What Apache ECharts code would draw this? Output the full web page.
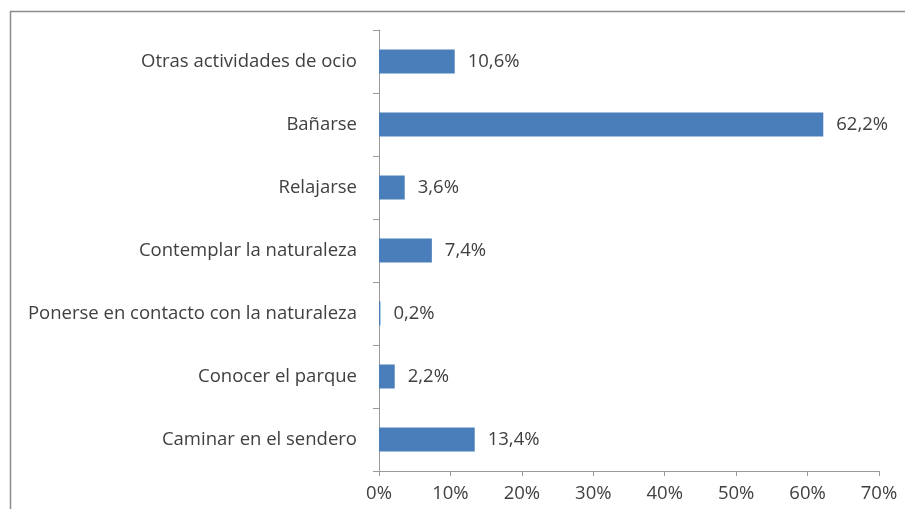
<!DOCTYPE html>
<html>
<head>
<meta charset="utf-8">
<script src="https://cdn.jsdelivr.net/npm/echarts@6/dist/echarts.min.js"></script>
<style>
  html, body { margin: 0; padding: 0; background: #fff; }
  #chart { width: 905px; height: 509px; }
</style>
</head>
<body>
<div id="chart"></div>
<script>
// bottom to top, as the category axis draws them
const categories = [
  'Caminar en el sendero',
  'Conocer el parque',
  'Ponerse en contacto con la naturaleza',
  'Contemplar la naturaleza',
  'Relajarse',
  'Bañarse',
  'Otras actividades de ocio'
];
const shares = [13.4, 2.2, 0.2, 7.4, 3.6, 62.2, 10.6];

const textColor = '#404040';
const font = 'Open Sans';
const pctLabel = (v) => v.toFixed(1).replace('.', ',') + '%';

const chart = echarts.init(document.getElementById('chart'));

chart.setOption({
  animation: false,
  backgroundColor: '#fff',
  graphic: [{
    type: 'rect',
    shape: { x: 10.5, y: 11.5, width: 1000, height: 1000 },
    style: { fill: 'none', stroke: '#8c8c8c', lineWidth: 1.5 },
    silent: true
  }],
  grid: { left: 379, right: 26, top: 30, bottom: 38 },
  xAxis: {
    type: 'value',
    min: 0,
    max: 70,
    interval: 10,
    axisLine: { show: true, lineStyle: { color: '#9a9a9a' } },
    axisTick: { show: true, length: 5, lineStyle: { color: '#9a9a9a' } },
    splitLine: { show: false },
    axisLabel: {
      color: textColor, fontFamily: font, fontSize: 18.5, margin: 13,
      formatter: (v) => v + '%'
    }
  },
  yAxis: {
    type: 'category',
    data: categories,
    axisLine: { show: true, lineStyle: { color: '#9a9a9a' } },
    axisTick: { show: true, length: 6, lineStyle: { color: '#9a9a9a' } },
    axisLabel: { color: textColor, fontFamily: font, fontSize: 18.5, margin: 22 }
  },
  series: [{
    type: 'bar',
    data: shares,
    barWidth: 24,
    itemStyle: { color: '#4a7ebb' },
    label: {
      show: true,
      position: 'right',
      distance: 13,
      color: textColor,
      fontFamily: font,
      fontSize: 18.5,
      formatter: (p) => pctLabel(p.value)
    }
  }]
});
</script>
</body>
</html>
